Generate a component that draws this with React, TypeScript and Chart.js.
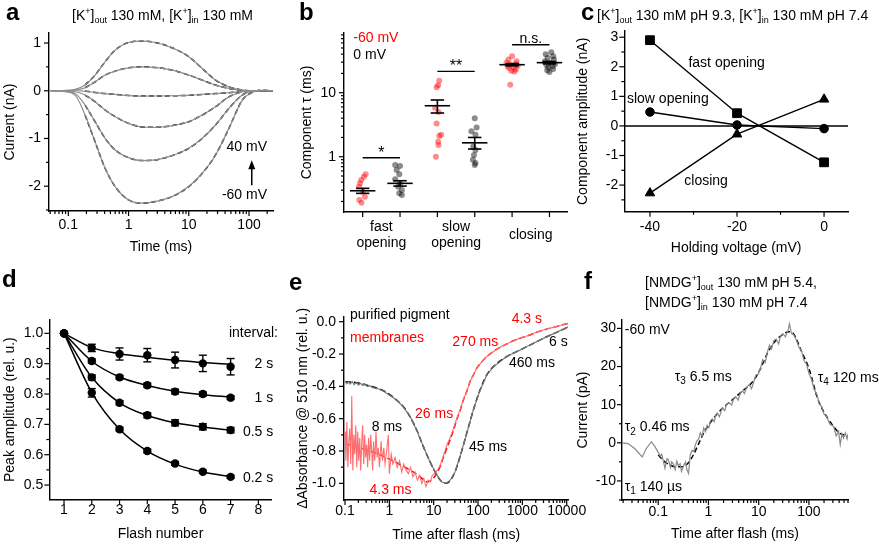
import React, { useEffect, useRef } from 'react';
import { Chart, registerables } from 'chart.js';

Chart.register(...registerables);

const FAMILY = '"Liberation Sans", Arial, Helvetica, sans-serif';

// ================= Panel a data =================
const aTime = [0.05, 0.08, 0.129, 0.19, 0.278, 0.408, 0.599, 1.0, 1.67, 2.78, 5.27, 10, 16.7, 27.8, 46.4, 77.4, 113, 160, 250];
const aCurveP40 = [0, 0.005, 0.028, 0.119, 0.328, 0.607, 0.851, 1.011, 1.039, 1.011, 0.9, 0.711, 0.467, 0.223, 0.084, 0.014, 0, 0, 0];
const aCurveP20 = [0, 0.003, 0.014, 0.063, 0.188, 0.328, 0.411, 0.481, 0.502, 0.488, 0.432, 0.328, 0.223, 0.119, 0.049, 0.007, 0, 0, 0];
const aCurve0 = [0, 0, 0, -0.01, -0.035, -0.06, -0.077, -0.1, -0.112, -0.11, -0.105, -0.095, -0.077, -0.06, -0.042, -0.015, -0.007, 0, 0];
const aCurveM20 = [0, -0.005, -0.021, -0.091, -0.23, -0.404, -0.544, -0.683, -0.76, -0.767, -0.732, -0.649, -0.509, -0.335, -0.126, -0.021, 0, 0, 0];
const aCurveM40 = [0, -0.01, -0.056, -0.3, -0.649, -0.997, -1.241, -1.402, -1.464, -1.45, -1.36, -1.206, -0.997, -0.718, -0.37, -0.091, -0.007, 0, 0];
const aCurveM60 = [0, -0.015, -0.091, -0.509, -1.067, -1.625, -2.008, -2.287, -2.357, -2.322, -2.218, -2.008, -1.729, -1.346, -0.788, -0.195, -0.035, 0.01, 0];
const aCurves = [aCurveP40, aCurveP20, aCurve0, aCurveM20, aCurveM40, aCurveM60];
const aXTicks = [0.1, 1, 10, 100];
const aXLabels = ['0.1', '1', '10', '100'];
const aXMinor = [0.05, 0.06, 0.07, 0.08, 0.09, 0.2, 0.3, 0.4, 0.5, 0.6, 0.7, 0.8, 0.9, 2, 3, 4, 5, 6, 7, 8, 9, 20, 30, 40, 50, 60, 70, 80, 90, 200];
const aYTicks = [-2, -1, 0, 1];
const aYLabels = ['-2', '-1', '0', '1'];
const aYMinor = [-2.5, -1.5, -0.5, 0.5];

// ================= Panel b data =================
const bColumns = [1, 2, 3, 4, 5, 6];
const bRedFast = [0.531, 0.487, 0.432, 0.384, 0.34, 0.284, 0.237, 0.211, 0.191];
const bRedFastJitter = [0.08, 0.03, -0.04, -0.07, -0.1, 0.0, 0.06, -0.09, -0.03];
const bBlackFast = [0.742, 0.715, 0.62, 0.531, 0.443, 0.384, 0.34, 0.302, 0.268, 0.252];
const bBlackFastJitter = [-0.13, 0.0, -0.09, -0.02, -0.13, 0.0, -0.05, 0.05, -0.02, 0.05];
const bRedSlow = [15.4, 13.1, 12.2, 5.8, 5.0, 3.3, 2.2, 2.1, 1.72, 1.52, 1.0];
const bRedSlowJitter = [0.05, 0.02, -0.02, -0.06, 0.03, -0.02, 0.1, 0.05, 0.02, 0.03, -0.04];
const bBlackSlow = [4.0, 2.85, 2.5, 2.2, 1.45, 1.27, 1.06, 0.9, 0.8, 0.74];
const bBlackSlowJitter = [0.0, 0.05, -0.09, 0.02, -0.04, 0.02, -0.02, -0.05, 0.02, 0.0];
const bRedClose = [37, 33, 31, 29.5, 28, 27.5, 26.5, 26, 25, 24.3, 23, 22, 21.5, 13.3];
const bRedCloseJitter = [0.0, -0.1, 0.12, -0.15, 0.1, -0.05, 0.15, -0.12, 0.05, -0.08, 0.1, -0.02, 0.06, -0.05];
const bBlackClose = [43, 40, 37, 35, 33, 31, 29.5, 28, 27, 26, 24.9, 23.5, 22.5, 21];
const bBlackCloseJitter = [0.05, -0.1, 0.1, -0.05, 0.12, -0.12, 0.02, 0.15, -0.08, 0.08, -0.03, 0.1, -0.06, 0.0];
const bMeans = [0.294, 0.384, 6.26, 1.65, 27.4, 29.5];
const bSemLow = [0.268, 0.348, 4.82, 1.32, 26.3, 28.2];
const bSemHigh = [0.321, 0.422, 7.7, 2.0, 28.5, 30.8];
const bYTicks = [1, 10];
const bYLabels = ['1', '10'];
const bYMinor = [0.2, 0.3, 0.4, 0.5, 0.6, 0.7, 0.8, 0.9, 2, 3, 4, 5, 6, 7, 8, 9, 20, 30, 40, 50, 60, 70, 80];
const bCategories = [['fast', 'opening'], ['slow', 'opening'], ['closing']];
const bCategoryPos = [1.5, 3.5, 5.5];
const bSigLevels = [0.965, 21.6, 56.2];
const bSigLabels = ['*', '**', 'n.s.'];

// ================= Panel c data =================
const cVoltage = [-40, -20, 0];
const cFastOpening = [2.9, 0.43, -1.23];
const cSlowOpening = [0.47, 0.03, -0.09];
const cClosing = [-2.27, -0.28, 0.9];
const cXTicks = [-40, -20, 0];
const cXLabels = ['-40', '-20', '0'];
const cXMinor = [-30, -10];
const cYTicks = [-2, -1, 0, 1, 2, 3];
const cYLabels = ['-2', '-1', '0', '1', '2', '3'];
const cYMinor = [-2.5, -1.5, -0.5, 0.5, 1.5, 2.5];

// ================= Panel d data =================
const dFlash = [1, 2, 3, 4, 5, 6, 7];
const d2s = [1.0, 0.952, 0.932, 0.928, 0.912, 0.901, 0.89];
const d2sErr = [0, 0.012, 0.02, 0.022, 0.026, 0.027, 0.027];
const d2sFit = [1.0, 0.953, 0.933, 0.921, 0.911, 0.904, 0.898];
const d1s = [1.0, 0.909, 0.855, 0.829, 0.808, 0.8, 0.788];
const d1sErr = [0, 0.007, 0.006, 0.007, 0.008, 0.007, 0.006];
const d1sFit = [1.0, 0.908, 0.856, 0.828, 0.809, 0.798, 0.79];
const d05s = [1.0, 0.855, 0.771, 0.73, 0.705, 0.692, 0.681];
const d05sErr = [0, 0.008, 0.007, 0.008, 0.01, 0.01, 0.009];
const d05sFit = [1.0, 0.855, 0.771, 0.729, 0.705, 0.691, 0.681];
const d02s = [1.0, 0.804, 0.684, 0.612, 0.571, 0.544, 0.527];
const d02sErr = [0, 0.014, 0.006, 0.006, 0.006, 0.005, 0.005];
const d02sFit = [1.0, 0.805, 0.684, 0.612, 0.569, 0.543, 0.528];
const dXTicks = [1, 2, 3, 4, 5, 6, 7, 8];
const dXLabels = ['1', '2', '3', '4', '5', '6', '7', '8'];
const dYTicks = [0.5, 0.6, 0.7, 0.8, 0.9, 1.0];
const dYLabels = ['0.5', '0.6', '0.7', '0.8', '0.9', '1.0'];
const dYMinor = [0.55, 0.65, 0.75, 0.85, 0.95];

// ================= Panel e data =================
const eBlackRawTime = [0.1, 0.11, 0.12, 0.13, 0.145, 0.16, 0.183, 0.2, 0.225, 0.25, 0.28, 0.32, 0.366, 0.42, 0.5, 0.6, 0.733, 0.9, 1.23, 1.6, 2.07, 2.93, 4.14, 5.85, 8.26, 11.7, 15.2, 19.0, 23.3, 30.3, 39.3, 55.5, 78.5, 111, 157, 222, 443, 885, 1770, 3540, 7080, 10900];
const eBlackRawAbs = [-0.368, -0.384, -0.372, -0.386, -0.37, -0.389, -0.376, -0.392, -0.381, -0.394, -0.386, -0.401, -0.396, -0.408, -0.412, -0.418, -0.429, -0.445, -0.47, -0.495, -0.528, -0.586, -0.671, -0.772, -0.868, -0.946, -0.992, -1.0, -0.982, -0.93, -0.833, -0.693, -0.544, -0.425, -0.331, -0.279, -0.215, -0.176, -0.133, -0.094, -0.055, -0.032];
const eBlackFitTime = [0.1, 0.183, 0.366, 0.733, 1.23, 2.07, 2.93, 4.14, 5.85, 8.26, 11.7, 15.2, 19.0, 23.3, 30.3, 39.3, 55.5, 78.5, 111, 157, 222, 443, 885, 1770, 3540, 7080, 10900];
const eBlackFitAbs = [-0.371, -0.377, -0.398, -0.427, -0.468, -0.526, -0.588, -0.67, -0.773, -0.866, -0.948, -0.99, -1.0, -0.984, -0.928, -0.835, -0.691, -0.546, -0.423, -0.33, -0.278, -0.216, -0.175, -0.134, -0.093, -0.056, -0.031];
const eRedRawTime = [0.1, 0.105, 0.11, 0.116, 0.122, 0.128, 0.135, 0.142, 0.15, 0.158, 0.166, 0.175, 0.184, 0.194, 0.204, 0.215, 0.226, 0.238, 0.25, 0.264, 0.278, 0.292, 0.308, 0.324, 0.34, 0.36, 0.38, 0.4, 0.42, 0.44, 0.47, 0.5, 0.53, 0.56, 0.6, 0.65, 0.7, 0.75, 0.8, 0.87, 0.95, 1.0, 1.1, 1.2, 1.35, 1.5, 1.7, 1.9, 2.1, 2.4, 2.7, 3.0, 3.4, 3.8, 4.3, 4.8, 5.4, 6.0, 6.7, 7.5, 8.4, 9.3, 10.5, 12, 14, 17, 20, 23.3, 28, 33, 40, 47, 56, 66, 80, 93, 120, 157, 220, 313, 450, 626, 900, 1250, 1800, 2500, 3500, 5000, 7000, 10900];
const eRedRawAbs = [-0.68, -0.86, -0.62, -0.9, -0.74, -0.66, -0.88, -0.46, -0.92, -0.7, -0.82, -0.64, -0.9, -0.68, -0.86, -0.72, -0.92, -0.75, -0.64, -0.88, -0.7, -0.84, -0.76, -0.9, -0.72, -0.86, -0.7, -0.8, -0.92, -0.74, -0.86, -0.68, -0.84, -0.78, -0.9, -0.74, -0.86, -0.78, -0.88, -0.8, -0.7, -0.94, -0.82, -0.88, -0.84, -0.9, -0.86, -0.93, -0.88, -0.92, -0.94, -0.9, -0.96, -0.93, -0.98, -0.95, -1.0, -0.97, -1.02, -0.98, -0.99, -0.95, -0.94, -0.92, -0.89, -0.82, -0.76, -0.72, -0.66, -0.6, -0.54, -0.48, -0.43, -0.37, -0.325, -0.29, -0.25, -0.215, -0.186, -0.158, -0.136, -0.119, -0.1, -0.089, -0.072, -0.058, -0.045, -0.035, -0.023, -0.01];
const eRedFitTime = [0.1, 0.2, 0.5, 1, 2, 3, 4.5, 6, 7, 8.5, 10, 12, 13.9, 17, 20, 23.3, 28, 33, 40, 46.7, 56, 66, 80, 93, 120, 157, 220, 313, 450, 626, 900, 1250, 1800, 2500, 3500, 5000, 7000, 10900];
const eRedFitAbs = [-0.753, -0.777, -0.813, -0.85, -0.893, -0.92, -0.95, -0.98, -0.99, -0.985, -0.965, -0.935, -0.897, -0.83, -0.78, -0.732, -0.67, -0.608, -0.545, -0.485, -0.43, -0.371, -0.325, -0.289, -0.25, -0.216, -0.185, -0.159, -0.137, -0.118, -0.102, -0.089, -0.073, -0.058, -0.046, -0.035, -0.024, -0.01];
const eXTicks = [0.1, 1, 10, 100, 1000, 10000];
const eXLabels = ['0.1', '1', '10', '100', '1000', '10000'];
const eXMinor = [0.2, 0.3, 0.4, 0.5, 0.6, 0.7, 0.8, 0.9, 2, 3, 4, 5, 6, 7, 8, 9, 20, 30, 40, 50, 60, 70, 80, 90, 200, 300, 400, 500, 600, 700, 800, 900, 2000, 3000, 4000, 5000, 6000, 7000, 8000, 9000];
const eYTicks = [0, -0.2, -0.4, -0.6, -0.8, -1.0];
const eYLabels = ['0.0', '-0.2', '-0.4', '-0.6', '-0.8', '-1.0'];
const eYMinor = [-0.1, -0.3, -0.5, -0.7, -0.9];

// ================= Panel f data =================
const fTraceTime = [0.019, 0.025, 0.034, 0.048, 0.058, 0.073, 0.086, 0.1, 0.11, 0.117, 0.125, 0.136, 0.15, 0.16, 0.175, 0.185, 0.2, 0.217, 0.235, 0.25, 0.273, 0.29, 0.319, 0.35, 0.372, 0.402, 0.434, 0.47, 0.507, 0.55, 0.592, 0.64, 0.691, 0.75, 0.806, 0.87, 0.94, 1.02, 1.1, 1.19, 1.3, 1.4, 1.49, 1.65, 1.88, 2.1, 2.3, 2.57, 2.9, 3.2, 3.5, 3.9, 4.3, 4.76, 5.2, 5.8, 6.49, 7.2, 8.0, 8.84, 9.8, 11, 12, 13.5, 15, 16.4, 18, 20, 22.3, 25, 27, 30.4, 34, 38.4, 41, 44.8, 50, 56.5, 63, 71.2, 80, 89.8, 100, 113, 127, 143, 160, 180, 200, 227, 260, 309, 350, 390, 420, 455, 490, 531, 575, 619];
const fTraceCurrent = [0, -0.2, -1.5, -3.7, -1.5, 0.3, -1.0, -2.5, -3.5, -3.0, -4.5, -6.7, -4.2, -4.5, -6.5, -5.0, -5.5, -7.0, -4.8, -6.0, -5.5, -7.5, -6.0, -5.0, -7.0, -8.0, -3.2, -2.0, -2.3, -0.5, 0.5, 1.0, 2.6, 1.8, 3.9, 2.9, 4.6, 4.0, 5.8, 6.3, 5.5, 7.2, 7.8, 6.8, 9.2, 8.4, 10.1, 10.5, 9.9, 11.6, 12.1, 11.2, 13.0, 13.6, 12.9, 14.6, 15.3, 14.2, 16.0, 17.8, 18.0, 19.8, 21.8, 21.0, 23.9, 25.6, 24.6, 26.8, 27.2, 25.9, 27.9, 28.6, 27.8, 29.4, 31.2, 28.7, 28.3, 26.9, 25.1, 24.1, 21.5, 20.6, 18.2, 16.6, 14.0, 12.8, 10.3, 9.5, 7.5, 6.8, 4.9, 4.3, 1.8, 3.0, -0.5, 2.4, 1.2, 2.6, 1.0, 2.8];
const fFitTime = [0.1, 0.13, 0.17, 0.22, 0.3, 0.4, 0.5, 0.6, 0.8, 1, 1.5, 2, 3, 5, 7, 10, 15, 20, 30, 40, 50, 70, 100, 150, 200, 300, 400, 600];
const fFitCurrent = [-3.2, -4.8, -5.8, -6.3, -6.3, -5.2, -3.2, -1.0, 2.5, 4.6, 7.6, 9.3, 11.3, 13.8, 15.5, 18.5, 23.5, 26.2, 28.4, 29.1, 28.5, 24.2, 19.5, 11.5, 8.0, 4.5, 2.6, 1.8];
const fXTicks = [0.1, 1, 10, 100];
const fXLabels = ['0.1', '1', '10', '100'];
const fXMinor = [0.02, 0.03, 0.04, 0.05, 0.06, 0.07, 0.08, 0.09, 0.2, 0.3, 0.4, 0.5, 0.6, 0.7, 0.8, 0.9, 2, 3, 4, 5, 6, 7, 8, 9, 20, 30, 40, 50, 60, 70, 80, 90, 200, 300, 400, 500, 600];
const fYTicks = [-10, 0, 10, 20, 30];
const fYLabels = ['-10', '0', '10', '20', '30'];
const fYMinor = [-15, -5, 5, 15, 25];

// ================= helpers =================
const pts = (xs: number[], ys: number[]) => xs.map((x, i) => ({ x, y: ys[i] }));

function makeScale(o: any) {
  return {
    type: o.type,
    min: o.min,
    max: o.max,
    bounds: 'data',
    afterBuildTicks: (s: any) => {
      s.ticks = o.ticks.map((v: number) => ({ value: v }));
    },
    afterFit: (s: any) => {
      if (s.isHorizontal()) s.height = o.size;
      else s.width = o.size;
      s.paddingLeft = 0;
      s.paddingRight = 0;
      s.paddingTop = 0;
      s.paddingBottom = 0;
    },
    ticks: {
      display: o.showLabels !== false,
      autoSkip: false,
      maxRotation: 0,
      minRotation: 0,
      padding: o.pad,
      color: '#000',
      font: { size: 14, family: FAMILY },
      callback: (_v: any, i: number) => (o.labels ? o.labels[i] : ''),
    },
    grid: { display: false, drawTicks: false },
    border: { display: true, color: '#000', width: 1.4 },
    title: o.title
      ? { display: true, text: o.title, color: '#000', font: { size: 14, family: FAMILY }, padding: o.titlePad }
      : { display: false },
  };
}

function baseOptions(padding: any, x: any, y: any) {
  return {
    animation: false,
    responsive: false,
    devicePixelRatio: 1,
    events: [],
    layout: { padding },
    plugins: { legend: { display: false }, tooltip: { enabled: false }, title: { display: false } },
    scales: { x, y },
  };
}

function strokeLine(ctx: any, x1: number, y1: number, x2: number, y2: number) {
  ctx.beginPath();
  ctx.moveTo(x1, y1);
  ctx.lineTo(x2, y2);
  ctx.stroke();
}

function drawRich(ctx: any, item: any, X: number, Y: number) {
  const size = item.size || 14;
  const big = `${size}px ${FAMILY}`;
  const small = `${Math.round(size * 0.7)}px ${FAMILY}`;
  let w = 0;
  item.segs.forEach((s: any) => {
    ctx.font = s.sub || s.sup ? small : big;
    w += ctx.measureText(s.t).width;
  });
  const align = item.align || 'left';
  let cx = align === 'left' ? X : align === 'right' ? X - w : X - w / 2;
  ctx.fillStyle = item.color || '#000';
  ctx.textBaseline = 'middle';
  ctx.textAlign = 'left';
  item.segs.forEach((s: any) => {
    ctx.font = s.sub || s.sup ? small : big;
    const dy = s.sub ? size * 0.32 : s.sup ? -size * 0.35 : 0;
    ctx.fillText(s.t, cx, Y + dy);
    cx += ctx.measureText(s.t).width;
  });
}

function makeExtras(cfg: any) {
  return {
    id: 'extras',
    beforeDatasetsDraw(chart: any) {
      const ctx = chart.ctx;
      const a = chart.chartArea;
      const xs = chart.scales.x;
      const ys = chart.scales.y;
      ctx.save();
      ctx.strokeStyle = '#000';
      ctx.lineWidth = 1.4;
      (cfg.hLines || []).forEach((v: number) => {
        const p = ys.getPixelForValue(v);
        strokeLine(ctx, a.left, p, a.right, p);
      });
      (cfg.errorBars || []).forEach((eb: any) =>
        eb.x.forEach((xv: number, i: number) => {
          const e = eb.e[i];
          if (!e) return;
          const px = xs.getPixelForValue(xv);
          const p1 = ys.getPixelForValue(eb.y[i] - e);
          const p2 = ys.getPixelForValue(eb.y[i] + e);
          strokeLine(ctx, px, p1, px, p2);
          strokeLine(ctx, px - 4, p1, px + 4, p1);
          strokeLine(ctx, px - 4, p2, px + 4, p2);
        })
      );
      ctx.restore();
    },
    afterDatasetsDraw(chart: any) {
      const ctx = chart.ctx;
      const xs = chart.scales.x;
      const ys = chart.scales.y;
      ctx.save();
      ctx.strokeStyle = '#000';
      ctx.fillStyle = '#000';
      ctx.lineWidth = 1.6;
      (cfg.meanBars || []).forEach((m: any) => {
        const l = xs.getPixelForValue(m.x - 0.34);
        const r = xs.getPixelForValue(m.x + 0.34);
        const cl = xs.getPixelForValue(m.x - 0.18);
        const cr = xs.getPixelForValue(m.x + 0.18);
        const c = xs.getPixelForValue(m.x);
        const pm = ys.getPixelForValue(m.mean);
        const plo = ys.getPixelForValue(m.lo);
        const phi = ys.getPixelForValue(m.hi);
        strokeLine(ctx, l, pm, r, pm);
        strokeLine(ctx, c, plo, c, phi);
        strokeLine(ctx, cl, plo, cr, plo);
        strokeLine(ctx, cl, phi, cr, phi);
      });
      ctx.lineWidth = 1.3;
      (cfg.sigLines || []).forEach((s: any) => {
        const p = ys.getPixelForValue(s.y);
        strokeLine(ctx, xs.getPixelForValue(s.x1), p, xs.getPixelForValue(s.x2), p);
      });
      ctx.lineWidth = 1.5;
      (cfg.arrows || []).forEach((ar: any) => {
        const px = xs.getPixelForValue(ar.x);
        const p1 = ys.getPixelForValue(ar.y1);
        const p2 = ys.getPixelForValue(ar.y2);
        strokeLine(ctx, px, p1, px, p2 + 6);
        ctx.beginPath();
        ctx.moveTo(px, p2);
        ctx.lineTo(px - 3.5, p2 + 9);
        ctx.lineTo(px + 3.5, p2 + 9);
        ctx.closePath();
        ctx.fill();
      });
      ctx.restore();
    },
    afterDraw(chart: any) {
      const ctx = chart.ctx;
      const a = chart.chartArea;
      const xs = chart.scales.x;
      const ys = chart.scales.y;
      ctx.save();
      ctx.strokeStyle = '#000';
      ctx.lineWidth = 1.2;
      const t = cfg.ticks || {};
      const drawX = (vals: number[] | undefined, len: number) =>
        (vals || []).forEach((v) => {
          const p = xs.getPixelForValue(v);
          strokeLine(ctx, p, a.bottom, p, a.bottom + len);
        });
      const drawY = (vals: number[] | undefined, len: number) =>
        (vals || []).forEach((v) => {
          const p = ys.getPixelForValue(v);
          strokeLine(ctx, a.left - len, p, a.left, p);
        });
      if (t.x) {
        drawX(t.x.major, 5);
        drawX(t.x.minor, 3);
      }
      if (t.y) {
        drawY(t.y.major, 5);
        drawY(t.y.minor, 3);
      }
      (cfg.texts || []).forEach((it: any) => {
        const X = xs.getPixelForValue(it.x);
        const Y = it.py !== undefined ? a.bottom + it.py : ys.getPixelForValue(it.y);
        drawRich(ctx, it, X, Y);
      });
      ctx.restore();
    },
  };
}

const txt = (s: string) => [{ t: s }];

// ================= chart configs =================
function configA() {
  const datasets: any[] = [];
  aCurves.forEach((c) =>
    datasets.push({ data: pts(aTime, c), borderColor: '#8e8e8e', borderWidth: 1.2, pointRadius: 0, cubicInterpolationMode: 'monotone' })
  );
  aCurves.forEach((c) =>
    datasets.push({ data: pts(aTime.slice(3), c.slice(3)), borderColor: '#000', borderWidth: 1.5, borderDash: [5, 3], pointRadius: 0, cubicInterpolationMode: 'monotone' })
  );
  return {
    type: 'line',
    data: { datasets },
    options: baseOptions(
      { left: 0, top: 33, right: 19, bottom: 0 },
      makeScale({ type: 'logarithmic', min: 0.0478, max: 250, ticks: aXTicks, labels: aXLabels, pad: 6, size: 61, title: 'Time (ms)', titlePad: { top: 0, bottom: 16.9 } }),
      makeScale({ type: 'linear', min: -2.52, max: 1.21, ticks: aYTicks, labels: aYLabels, pad: 8, size: 49, title: 'Current (nA)', titlePad: { top: 1.6, bottom: 0 } })
    ),
    plugins: [
      makeExtras({
        ticks: { x: { major: aXTicks, minor: aXMinor }, y: { major: aYTicks, minor: aYMinor } },
        arrows: [{ x: 111, y1: -1.98, y2: -1.455 }],
        texts: [
          { x: 199, y: -1.176, segs: txt('40 mV'), align: 'right' },
          { x: 199, y: -2.19, segs: txt('-60 mV'), align: 'right' },
        ],
      }),
    ],
  };
}

function configB() {
  const red = 'rgba(255,0,0,0.45)';
  const black = 'rgba(0,0,0,0.45)';
  const group = (col: number, vals: number[], jit: number[], color: string) => ({
    data: vals.map((v, i) => ({ x: col + jit[i], y: v })),
    backgroundColor: color,
    borderWidth: 0,
    pointRadius: 3,
  });
  const datasets = [
    group(bColumns[0], bRedFast, bRedFastJitter, red),
    group(bColumns[1], bBlackFast, bBlackFastJitter, black),
    group(bColumns[2], bRedSlow, bRedSlowJitter, red),
    group(bColumns[3], bBlackSlow, bBlackSlowJitter, black),
    group(bColumns[4], bRedClose, bRedCloseJitter, red),
    group(bColumns[5], bBlackClose, bBlackCloseJitter, black),
  ];
  const texts: any[] = [
    { x: 0.75, y: 71.6, segs: txt('-60 mV'), color: '#ff0000' },
    { x: 0.75, y: 39.3, segs: txt('0 mV') },
    { x: 1.5, y: 1.14, segs: txt(bSigLabels[0]), align: 'center', size: 16 },
    { x: 3.5, y: 25.8, segs: txt(bSigLabels[1]), align: 'center', size: 16 },
    { x: 5.5, y: 67.8, segs: txt(bSigLabels[2]), align: 'center' },
  ];
  bCategories.forEach((lines, i) => {
    if (lines.length === 2) {
      texts.push({ x: bCategoryPos[i], py: 14.7, segs: txt(lines[0]), align: 'center' });
      texts.push({ x: bCategoryPos[i], py: 31.3, segs: txt(lines[1]), align: 'center' });
    } else {
      texts.push({ x: bCategoryPos[i], py: 23, segs: txt(lines[0]), align: 'center' });
    }
  });
  return {
    type: 'scatter',
    data: { datasets },
    options: baseOptions(
      { left: 0, top: 33, right: 5, bottom: 0 },
      makeScale({ type: 'linear', min: 0.5, max: 6.47, ticks: bColumns, labels: null, showLabels: false, pad: 6, size: 60 }),
      makeScale({ type: 'logarithmic', min: 0.137, max: 85.7, ticks: bYTicks, labels: bYLabels, pad: 8, size: 52, title: 'Component τ (ms)', titlePad: { top: 6.3, bottom: 0 } })
    ),
    plugins: [
      makeExtras({
        ticks: { x: { major: bColumns }, y: { major: bYTicks, minor: bYMinor } },
        meanBars: bColumns.map((c, i) => ({ x: c, mean: bMeans[i], lo: bSemLow[i], hi: bSemHigh[i] })),
        sigLines: [
          { x1: bColumns[0], x2: bColumns[1], y: bSigLevels[0] },
          { x1: bColumns[2], x2: bColumns[3], y: bSigLevels[1] },
          { x1: bColumns[4], x2: bColumns[5], y: bSigLevels[2] },
        ],
        texts,
      }),
    ],
  };
}

function configC() {
  const ds = (vals: number[], style: string, r: number) => ({
    data: pts(cVoltage, vals),
    borderColor: '#000',
    backgroundColor: '#000',
    borderWidth: 1.4,
    pointStyle: style,
    pointRadius: r,
    pointBorderWidth: 1,
  });
  return {
    type: 'line',
    data: { datasets: [ds(cFastOpening, 'rect', 6.2), ds(cSlowOpening, 'circle', 4.3), ds(cClosing, 'triangle', 5.5)] },
    options: baseOptions(
      { left: 0, top: 31, right: 31, bottom: 0 },
      makeScale({ type: 'linear', min: -45.9, max: 5.5, ticks: cXTicks, labels: cXLabels, pad: 6.6, size: 60.3, title: 'Holding voltage (mV)', titlePad: { top: 0, bottom: 15.3 } }),
      makeScale({ type: 'linear', min: -2.9, max: 3.21, ticks: cYTicks, labels: cYLabels, pad: 6, size: 52.3, title: 'Component amplitude (nA)', titlePad: { top: 2.6, bottom: 0 } })
    ),
    plugins: [
      makeExtras({
        hLines: [0],
        ticks: { x: { major: cXTicks, minor: cXMinor }, y: { major: cYTicks, minor: cYMinor } },
        texts: [
          { x: -22.4, y: 2.13, segs: txt('fast opening'), align: 'center' },
          { x: -35.9, y: 0.91, segs: txt('slow opening'), align: 'center' },
          { x: -27.1, y: -1.86, segs: txt('closing'), align: 'center' },
        ],
      }),
    ],
  };
}

function configD() {
  const fit = (vals: number[]) => ({ data: pts(dFlash, vals), borderColor: '#000', borderWidth: 1.5, pointRadius: 0, cubicInterpolationMode: 'monotone' });
  const dots = (vals: number[]) => ({ data: pts(dFlash, vals), showLine: false, pointRadius: 4.2, backgroundColor: '#000', borderColor: '#000', pointBorderWidth: 0 });
  return {
    type: 'line',
    data: { datasets: [fit(d2sFit), fit(d1sFit), fit(d05sFit), fit(d02sFit), dots(d2s), dots(d1s), dots(d05s), dots(d02s)] },
    options: baseOptions(
      { left: 0, top: 48, right: 20.3, bottom: 0 },
      makeScale({ type: 'linear', min: 0.47, max: 8.48, ticks: dXTicks, labels: dXLabels, pad: 2.8, size: 44.7, title: 'Flash number', titlePad: { top: 0, bottom: 1.6 } }),
      makeScale({ type: 'linear', min: 0.453, max: 1.044, ticks: dYTicks, labels: dYLabels, pad: 6, size: 49.3, title: 'Peak amplitude (rel. u.)', titlePad: { top: 1.6, bottom: 0 } })
    ),
    plugins: [
      makeExtras({
        ticks: { x: { major: dXTicks }, y: { major: dYTicks, minor: dYMinor } },
        errorBars: [
          { x: dFlash, y: d2s, e: d2sErr },
          { x: dFlash, y: d1s, e: d1sErr },
          { x: dFlash, y: d05s, e: d05sErr },
          { x: dFlash, y: d02s, e: d02sErr },
        ],
        texts: [
          { x: 8.706, y: 1.001, segs: txt('interval:'), align: 'right' },
          { x: 8.536, y: 0.898, segs: txt('2 s'), align: 'right' },
          { x: 8.536, y: 0.786, segs: txt('1 s'), align: 'right' },
          { x: 8.536, y: 0.676, segs: txt('0.5 s'), align: 'right' },
          { x: 8.536, y: 0.524, segs: txt('0.2 s'), align: 'right' },
        ],
      }),
    ],
  };
}

function configE() {
  const red = '#ff0000';
  return {
    type: 'line',
    data: {
      datasets: [
        { data: pts(eBlackRawTime, eBlackRawAbs), borderColor: '#7a7a7a', borderWidth: 1.2, pointRadius: 0 },
        { data: pts(eRedRawTime, eRedRawAbs), borderColor: '#ff6e6e', borderWidth: 1.1, pointRadius: 0 },
        { data: pts(eBlackFitTime, eBlackFitAbs), borderColor: '#000', borderWidth: 1.5, borderDash: [6, 3], pointRadius: 0, cubicInterpolationMode: 'monotone' },
        { data: pts(eRedFitTime, eRedFitAbs), borderColor: red, borderWidth: 1.5, borderDash: [6, 3], pointRadius: 0, cubicInterpolationMode: 'monotone' },
      ],
    },
    options: baseOptions(
      { left: 0, top: 44.7, right: 21.7, bottom: 0 },
      makeScale({ type: 'logarithmic', min: 0.0949, max: 10866, ticks: eXTicks, labels: eXLabels, pad: 2.4, size: 44, title: 'Time after flash (ms)', titlePad: { top: 0, bottom: 0 } }),
      makeScale({ type: 'linear', min: -1.103, max: 0.031, ticks: eYTicks, labels: eYLabels, pad: 8, size: 52, title: 'ΔAbsorbance @ 510 nm (rel. u.)', titlePad: { top: 2.6, bottom: 0 } })
    ),
    plugins: [
      makeExtras({
        ticks: { x: { major: eXTicks, minor: eXMinor }, y: { major: eYTicks, minor: eYMinor } },
        texts: [
          { x: 0.13, y: 0.0415, segs: txt('purified pigment') },
          { x: 0.13, y: -0.099, segs: txt('membranes'), color: red },
          { x: 574, y: 0.015, segs: txt('4.3 s'), color: red },
          { x: 26.3, y: -0.126, segs: txt('270 ms'), color: red },
          { x: 3990, y: -0.126, segs: txt('6 s') },
          { x: 500, y: -0.257, segs: txt('460 ms') },
          { x: 3.79, y: -0.571, segs: txt('26 ms'), color: red },
          { x: 0.4, y: -0.654, segs: txt('8 ms') },
          { x: 62.5, y: -0.776, segs: txt('45 ms') },
          { x: 0.356, y: -1.041, segs: txt('4.3 ms'), color: red },
        ],
      }),
    ],
  };
}

function configF() {
  return {
    type: 'line',
    data: {
      datasets: [
        { data: pts(fTraceTime, fTraceCurrent), borderColor: '#8a8a8a', borderWidth: 1.2, pointRadius: 0 },
        { data: pts(fFitTime, fFitCurrent), borderColor: '#000', borderWidth: 1.5, borderDash: [5, 3], pointRadius: 0, cubicInterpolationMode: 'monotone' },
      ],
    },
    options: baseOptions(
      { left: 0, top: 48, right: 31, bottom: 0 },
      makeScale({ type: 'logarithmic', min: 0.019, max: 600, ticks: fXTicks, labels: fXLabels, pad: 4, size: 44, title: 'Time after flash (ms)', titlePad: { top: 0, bottom: 1.6 } }),
      makeScale({ type: 'linear', min: -15, max: 32.2, ticks: fYTicks, labels: fYLabels, pad: 6, size: 46, title: 'Current (pA)', titlePad: { top: -1, bottom: 0 } })
    ),
    plugins: [
      makeExtras({
        ticks: { x: { major: fXTicks, minor: fXMinor }, y: { major: fYTicks, minor: fYMinor } },
        texts: [
          { x: 0.0216, y: 29.6, segs: txt('-60 mV') },
          { x: 0.213, y: 17.2, segs: [{ t: 'τ' }, { t: '3', sub: true }, { t: ' 6.5 ms' }] },
          { x: 150, y: 17.0, segs: [{ t: 'τ' }, { t: '4', sub: true }, { t: ' 120 ms' }] },
          { x: 0.0216, y: 4.0, segs: [{ t: 'τ' }, { t: '2', sub: true }, { t: ' 0.46 ms' }] },
          { x: 0.0216, y: -11.6, segs: [{ t: 'τ' }, { t: '1', sub: true }, { t: ' 140 µs' }] },
        ],
      }),
    ],
  };
}

// ================= components =================
function ChartPanel({ left, top, width, height, make }: any) {
  const ref = useRef<HTMLCanvasElement | null>(null);
  useEffect(() => {
    const chart = new Chart(ref.current as HTMLCanvasElement, make());
    return () => chart.destroy();
  }, []);
  return <canvas ref={ref} width={width} height={height} style={{ position: 'absolute', left, top, width, height }} />;
}

const Sup = ({ c }: any) => <span style={{ fontSize: 9, position: 'relative', top: -6 }}>{c}</span>;
const Sub = ({ c }: any) => <span style={{ fontSize: 9, position: 'relative', top: 3 }}>{c}</span>;

function Letter({ ch, left, top }: any) {
  return (
    <div style={{ position: 'absolute', left, top, fontSize: 24, lineHeight: '24px', fontWeight: 'bold', fontFamily: FAMILY }}>{ch}</div>
  );
}

function Line14({ left, top, children }: any) {
  return (
    <div style={{ position: 'absolute', left, top, fontSize: 14, lineHeight: '14px', whiteSpace: 'nowrap', fontFamily: FAMILY }}>{children}</div>
  );
}

export default function App() {
  return (
    <div style={{ position: 'absolute', left: 0, top: 0, width: 879, height: 544, background: '#fff', color: '#000', overflow: 'hidden', fontFamily: FAMILY }}>
      <ChartPanel left={0} top={0} width={292} height={272} make={configA} />
      <ChartPanel left={292} top={0} width={280} height={272} make={configB} />
      <ChartPanel left={572} top={0} width={307} height={272} make={configC} />
      <ChartPanel left={0} top={272} width={292} height={272} make={configD} />
      <ChartPanel left={292} top={272} width={298} height={272} make={configE} />
      <ChartPanel left={576} top={272} width={303} height={272} make={configF} />

      <Letter ch="a" left={6} top={0.4} />
      <Letter ch="b" left={299} top={0.4} />
      <Letter ch="c" left={581} top={0.4} />
      <Letter ch="d" left={2} top={266.7} />
      <Letter ch="e" left={289} top={270.4} />
      <Letter ch="f" left={584} top={269} />

      <Line14 left={72} top={7.6}>
        [K<Sup c="+" />]<Sub c="out" /> 130 mM, [K<Sup c="+" />]<Sub c="in" /> 130 mM
      </Line14>
      <Line14 left={597} top={7.6}>
        [K<Sup c="+" />]<Sub c="out" /> 130 mM pH 9.3, [K<Sup c="+" />]<Sub c="in" /> 130 mM pH 7.4
      </Line14>
      <Line14 left={645} top={275.2}>
        [NMDG<Sup c="+" />]<Sub c="out" /> 130 mM pH 5.4,
      </Line14>
      <Line14 left={645} top={295.2}>
        [NMDG<Sup c="+" />]<Sub c="in" /> 130 mM pH 7.4
      </Line14>
    </div>
  );
}
